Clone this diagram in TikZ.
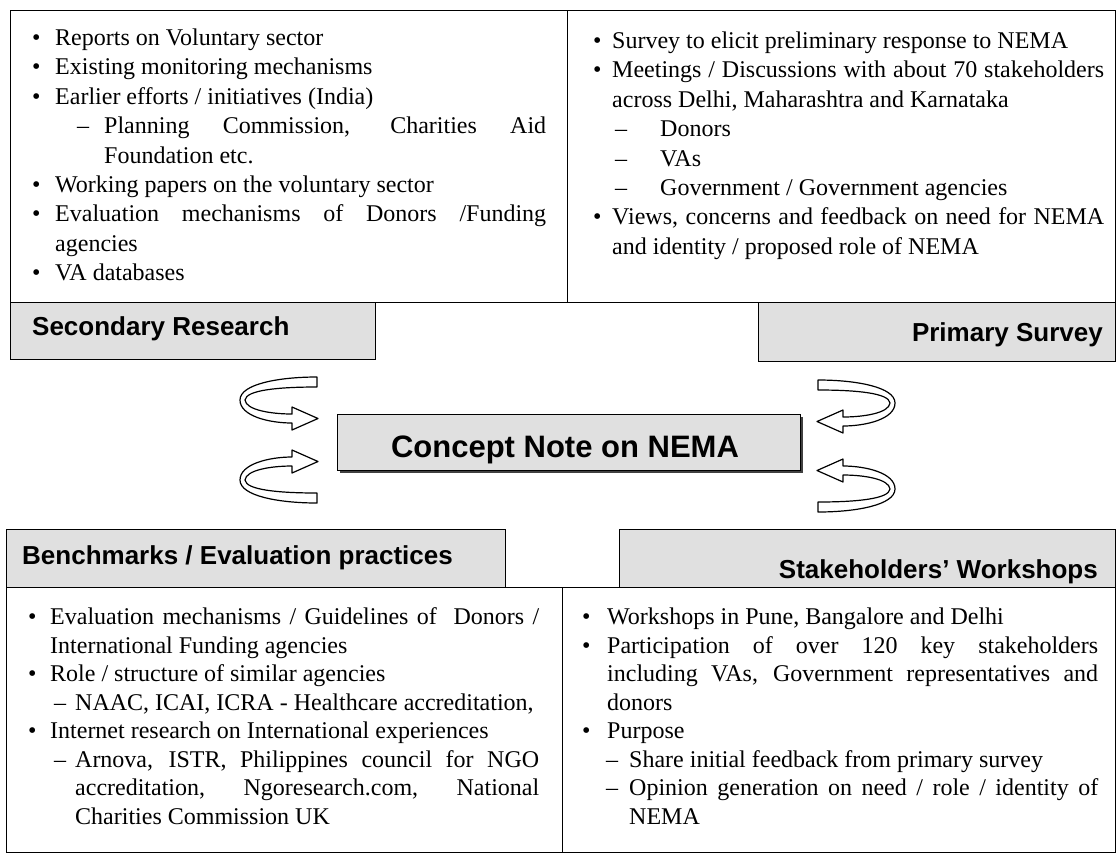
\documentclass[tikz,border=0pt]{standalone}
\usepackage{fontspec}
\setmainfont{Liberation Serif}
\newfontfamily\headfont{Liberation Sans}

% bullet item: #1 = indent of the text from the bullet
\newcommand\bul[2]{\par\hangindent=#1\hangafter=1\noindent\makebox[#1][l]{\textbullet}#2\par}
% dash sub-item: #1 = dash offset, #2 = text offset
\newcommand\subi[3]{\par\hangindent=#2\hangafter=1\noindent\hspace*{#1}\makebox[\dimexpr#2-#1\relax][l]{–}#3\par}

\begin{document}
\begin{tikzpicture}[x=1pt,y=-1pt,
  boxframe/.style={draw=black,line width=1.4pt,inner sep=0pt,anchor=north west},
  tagbox/.style={boxframe,fill=black!12},
  bodytext/.style={anchor=base west,inner sep=0pt,align=justify,
    font=\fontsize{24}{29.4}\selectfont},
  lowertext/.style={bodytext,font=\fontsize{24}{28.5}\selectfont},
  tagtext/.style={inner sep=0pt,font=\headfont\bfseries\fontsize{26}{30}\selectfont},
  ribbonline/.style={draw=black,line width=1.2pt,fill=white,line join=round},
  ribbonarrow/.pic={
    \draw[ribbonline] (38,-63) .. controls (0,-63) and (-39,-56) .. (-39,-40)
      .. controls (-39,-24) and (-10,-17) .. (13,-17)
      -- (13,-10) -- (39,-21.5) -- (13,-33) -- (13,-26)
      .. controls (-8,-26) and (-33,-30) .. (-34,-40)
      .. controls (-33,-50) and (0,-53) .. (38,-53) -- cycle;
  }]
\useasboundingbox (0,0) rectangle (1118,855);
\fill[white] (0,0) rectangle (1118,855);

% ---- content boxes ----
\node[boxframe,minimum width=557pt,minimum height=292pt] (tl) at (10,10) {};
\node[boxframe,minimum width=548pt,minimum height=292pt] (tr) at (567,10) {};
\node[boxframe,minimum width=556pt,minimum height=265pt] (bl) at (6,587) {};
\node[boxframe,minimum width=553pt,minimum height=265pt] (br) at (562,587) {};

% ---- title tabs ----
\node[tagbox,minimum width=365pt,minimum height=57pt] (sec) at (10,302) {};
\node[tagbox,minimum width=357pt,minimum height=59pt] (prim) at (758,302) {};
\node[tagbox,minimum width=499pt,minimum height=58pt] (bench) at (6,529) {};
\node[tagbox,minimum width=496pt,minimum height=58pt] (stake) at (619,529) {};

\node[tagtext,anchor=base west] (sectxt) at (32,335) {Secondary Research};
\node[tagtext,anchor=base east] (primtxt) at (1103,341) {Primary Survey};
\node[tagtext,anchor=base west] (benchtxt) at (22,564) {Benchmarks / Evaluation practices};
\node[tagtext,anchor=base east] (staketxt) at (1098,578) {Stakeholders’ Workshops};

% ---- central box with shadow ----
\fill[black!75] (340,417) rectangle (803,473);
\node[boxframe,fill=black!12,minimum width=463pt,minimum height=56pt] (concept) at (337,414) {};
\node[inner sep=0pt,anchor=base,font=\headfont\bfseries\fontsize{31}{36}\selectfont]
  (concepttxt) at (565,457) {Concept Note on NEMA};

% ---- ribbon arrows around the central box ----
\pic (ul) at (279,440) {ribbonarrow};
\pic[xscale=-1] (ur) at (856,443) {ribbonarrow};
\pic[yscale=-1] (ll) at (279,440) {ribbonarrow};
\pic[xscale=-1,yscale=-1] (lr) at (856,449) {ribbonarrow};

% ---- box texts ----
\node[bodytext,text width=514pt] (tltxt) at (32,16) {%
\bul{23pt}{Reports on Voluntary sector}
\bul{23pt}{Existing monitoring mechanisms}
\bul{23pt}{Earlier efforts / initiatives (India)}
\subi{45pt}{72pt}{Planning Commission, Charities Aid\linebreak Foundation etc.}
\bul{23pt}{Working papers on the voluntary sector}
\bul{23pt}{Evaluation mechanisms of Donors /Funding\linebreak agencies}
\bul{23pt}{VA databases}};

\node[bodytext,text width=511pt] (trtxt) at (593,19) {%
\bul{19pt}{Survey to elicit preliminary response to NEMA}
\bul{19pt}{Meetings / Discussions with about 70 stakeholders\linebreak across Delhi, Maharashtra and Karnataka}
\subi{22pt}{67pt}{Donors}
\subi{22pt}{67pt}{VAs}
\subi{22pt}{67pt}{Government / Government agencies}
\bul{19pt}{Views, concerns and feedback on need for NEMA\linebreak and identity / proposed role of NEMA}};

\node[lowertext,text width=511pt] (bltxt) at (28,596) {%
\bul{22pt}{Evaluation mechanisms / Guidelines of\ \ Donors /\linebreak International Funding agencies}
\bul{22pt}{Role / structure of similar agencies}
\subi{26pt}{47pt}{NAAC, ICAI, ICRA - Healthcare accreditation,}
\bul{22pt}{Internet research on International experiences}
\subi{26pt}{47pt}{Arnova, ISTR, Philippines council for NGO\linebreak accreditation, Ngoresearch.com, National\linebreak Charities Commission UK}};

\node[lowertext,text width=516pt] (brtxt) at (582,596) {%
\bul{25pt}{Workshops in Pune, Bangalore and Delhi}
\bul{25pt}{Participation of over 120 key stakeholders\linebreak including VAs, Government representatives and\linebreak donors}
\bul{25pt}{Purpose}
\subi{24pt}{47pt}{Share initial feedback from primary survey}
\subi{24pt}{47pt}{Opinion generation on need / role / identity of\linebreak NEMA}};
\end{tikzpicture}
\end{document}
